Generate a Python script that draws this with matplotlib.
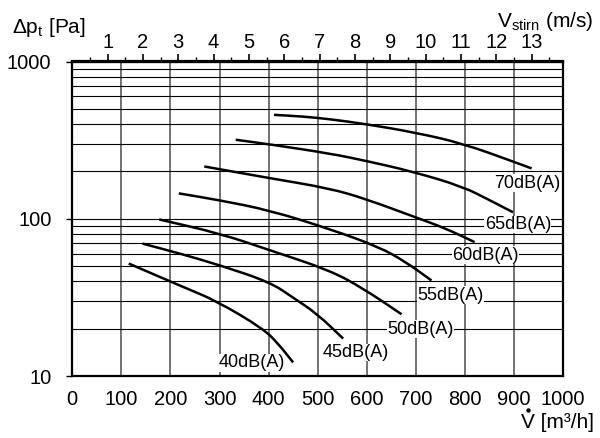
import matplotlib
matplotlib.use('Agg')
import matplotlib.pyplot as plt
from matplotlib.ticker import FixedLocator, NullFormatter, FixedFormatter
from matplotlib.path import Path
from matplotlib.patches import PathPatch
from matplotlib.lines import Line2D
import numpy as np

# ---------------- data ----------------
flow_ticks = [0, 100, 200, 300, 400, 500, 600, 700, 800, 900, 1000]
pressure_major = [10, 100, 1000]
pressure_minor = [20, 30, 40, 50, 60, 70, 80, 90, 200, 300, 400, 500, 600, 700, 800, 900]
velocity_ticks = [1, 2, 3, 4, 5, 6, 7, 8, 9, 10, 11, 12, 13]
velocity_minor = [0.5, 1.5, 2.5, 3.5, 4.5, 5.5, 6.5, 7.5, 8.5, 9.5, 10.5, 11.5, 12.5, 13.5]
FLOW_PER_VELOCITY = 72.0  # m3/h per m/s

curve_names = ['70dB(A)', '65dB(A)', '60dB(A)', '55dB(A)', '50dB(A)', '45dB(A)', '40dB(A)']
q70 = [411, 470, 525, 598, 698, 796, 900, 936]
p70 = [458, 447, 430, 400, 354, 301, 230, 209]
q65 = [333, 403, 525, 600, 695, 796, 851, 898]
p65 = [318, 297, 260, 233, 199, 160, 131, 110]
q60 = [269, 403, 525, 600, 700, 760, 820]
p60 = [215, 181, 156, 133, 102, 87, 71]
q55 = [217, 301, 403, 525, 626, 680, 732]
p55 = [145, 131, 113, 86, 66, 53, 40.5]
q50 = [177, 301, 403, 525, 593, 671]
p50 = [99, 80.6, 63, 47, 36, 24.7]
q45 = [143, 220, 301, 403, 450, 498, 552]
p45 = [69.5, 60, 50.6, 39.5, 31.5, 25, 17.3]
q40 = [115, 226, 294, 389, 420, 450]
p40 = [51.9, 36.8, 30, 20, 16, 12.2]
curve_q = [q70, q65, q60, q55, q50, q45, q40]
curve_p = [p70, p65, p60, p55, p50, p45, p40]

plt.rcParams['font.family'] = ['Liberation Sans', 'DejaVu Sans']

fig = plt.figure(figsize=(6, 4.38), dpi=100)
ax = fig.add_axes([72.3 / 600, 1 - 376 / 438, (563 - 72.3) / 600, (376 - 61.5) / 438])
ax.set_yscale('log')
ax.set_xlim(0, 1000)
ax.set_ylim(10, 1000)

ax.xaxis.set_major_locator(FixedLocator(flow_ticks))
ax.set_xticklabels([str(v) for v in flow_ticks])
ax.yaxis.set_major_locator(FixedLocator(pressure_major))
ax.yaxis.set_major_formatter(FixedFormatter([str(v) for v in pressure_major]))
ax.yaxis.set_minor_locator(FixedLocator(pressure_minor))
ax.yaxis.set_minor_formatter(NullFormatter())

ax.yaxis.grid(True, which='both', color='black', lw=0.8)
ax.xaxis.grid(True, which='major', color='#5a5a5a', lw=1.2)
ax.set_axisbelow(True)

ax.tick_params(axis='x', which='both', length=0, pad=10, labelsize=14.5)
ax.tick_params(axis='y', which='major', length=4, width=1, direction='out', pad=11, labelsize=14.5)
ax.tick_params(axis='y', which='minor', length=0)

for s in ax.spines.values():
    s.set_linewidth(1.6)
    s.set_color('black')

sec = ax.secondary_xaxis('top', functions=(lambda q: q / FLOW_PER_VELOCITY,
                                           lambda v: v * FLOW_PER_VELOCITY))
sec.xaxis.set_major_locator(FixedLocator(velocity_ticks))
sec.xaxis.set_minor_locator(FixedLocator(velocity_minor))
sec.xaxis.set_minor_formatter(NullFormatter())
sec.tick_params(axis='x', which='major', length=5, width=1.2, direction='out', pad=2, labelsize=14.5)
sec.tick_params(axis='x', which='minor', length=3, width=1, direction='out')
sec.spines['top'].set_linewidth(1.6)


def smooth_curve(q, p):
    """Quadratic B-spline path through the read points (mid-points in log space)."""
    verts = [(q[0], p[0])]
    codes = [Path.MOVETO]
    mids = [((q[i] + q[i + 1]) / 2, np.sqrt(p[i] * p[i + 1])) for i in range(len(q) - 1)]
    verts.append(mids[0])
    codes.append(Path.LINETO)
    for i in range(1, len(q) - 1):
        verts += [(q[i], p[i]), mids[i]]
        codes += [Path.CURVE3, Path.CURVE3]
    verts.append((q[-1], p[-1]))
    codes.append(Path.LINETO)
    return Path(verts, codes)


for q, p in zip(curve_q, curve_p):
    ax.add_patch(PathPatch(smooth_curve(q, p), facecolor='none', edgecolor='black',
                           lw=1.8, capstyle='butt', zorder=3))

label_xy = [(928, 168), (908, 92), (842, 58.6), (771, 32.6), (709, 19.8), (578, 14.1), (366, 12.1)]
for name, (x, y) in zip(curve_names, label_xy):
    ax.text(x, y, name, ha='center', va='center', fontsize=13, zorder=4,
            bbox=dict(facecolor='white', edgecolor='none', pad=0.3))

fig.text(12 / 600, 1 - 33 / 438, r'Δp$_\mathregular{t}$ [Pa]', ha='left', va='baseline', fontsize=15)
fig.text(593 / 600, 1 - 27 / 438, r'V$_\mathregular{stirn}$ (m/s)', ha='right', va='baseline', fontsize=15)
fig.text(521 / 600, 1 - 428 / 438, 'V [m³/h]', ha='left', va='baseline', fontsize=15)
# flow-rate dot above the V
fig.add_artist(Line2D([528 / 600], [1 - 410 / 438], transform=fig.transFigure,
                      marker='o', markersize=2.2, color='black', linestyle='none'))

fig.savefig('out.png', dpi=100)
